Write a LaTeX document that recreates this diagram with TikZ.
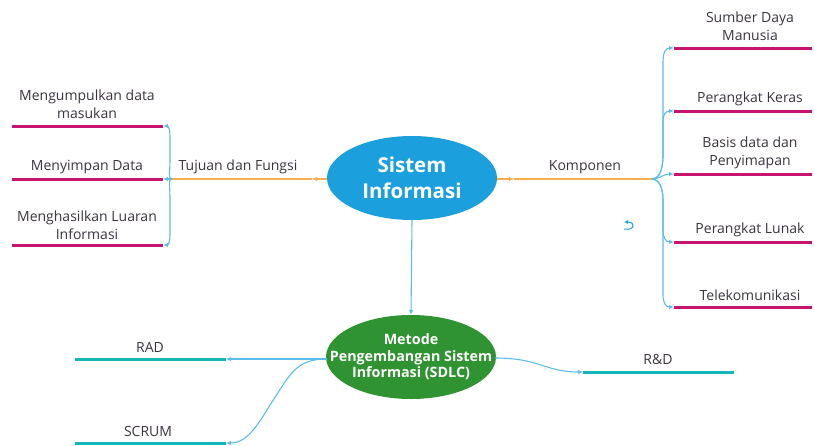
\documentclass[tikz,border=0pt]{standalone}
\usepackage{fontspec}
\setmainfont{Open Sans}
\usetikzlibrary{arrows.meta,shapes.geometric}
\definecolor{sysblue}{HTML}{1C9FDD}
\definecolor{sysgreen}{HTML}{2F9331}
\definecolor{conblue}{HTML}{5DBCEA}
\definecolor{orangeln}{HTML}{F6AE4A}
\definecolor{magln}{HTML}{C8146E}
\definecolor{tealln}{HTML}{12B7B7}
\definecolor{txt}{HTML}{3B3440}
\tikzset{
  x=1pt,y=-1pt,
  lbl/.style={font=\fontsize{14}{18}\selectfont, text=txt, align=center, inner sep=0pt},
  blueconn/.style={draw=conblue, line width=1.1pt, -{Latex[length=5pt,width=4.5pt]}},
  orthin/.style={draw=orangeln, line width=1.1pt, -{Latex[length=5pt,width=4.5pt]}},
  orthick/.style={draw=orangeln, line width=2.6pt},
  magline/.style={draw=magln, line width=3pt},
  tealline/.style={draw=tealln, line width=3pt},
  bubble/.style={ellipse, minimum width=170pt, minimum height=84pt, inner sep=0pt},
  bubtext/.style={text=white, align=center, inner sep=0pt},
}
\begin{document}
\begin{tikzpicture}
\useasboundingbox (0,0) rectangle (814,445);
% main nodes
\node[bubble, fill=sysblue] (si) at (412,178) {};
\node[bubtext, font=\bfseries\fontsize{20.5}{26}\selectfont] (sit) at (si.center) {Sistem\\Informasi};
\node[bubble, fill=sysgreen] (sdlc) at (411,357) {};
\node[bubtext, font=\bfseries\fontsize{14.3}{16.5}\selectfont] (sdlct) at (sdlc.center) {Metode\\Pengembangan Sistem\\Informasi (SDLC)};
% coordinates
\coordinate (oLa) at (312,179);
\coordinate (fL) at (172,179);
\coordinate (oRa) at (514,179);
\coordinate (fR) at (652,179);
% left topic
\draw[orthin] (si.west |- oLa) -- (oLa);
\draw[orthick] (oLa) -- (fL);
\node[lbl] (tuj) at (238,167) {Tujuan dan Fungsi};
% right topic
\draw[orthin] (si.east |- oRa) -- (oRa);
\draw[orthick] (oRa) -- (fR);
\node[lbl] (komp) at (585,167) {Komponen};
% left leaves
\coordinate (l1a) at (163,126); \coordinate (l1b) at (12,126);
\coordinate (l2a) at (163,179); \coordinate (l2b) at (12,179);
\coordinate (l3a) at (163,245); \coordinate (l3b) at (12,245);
\draw[magline] (l1a) -- (l1b);
\draw[magline] (l2a) -- (l2b);
\draw[magline] (l3a) -- (l3b);
\node[lbl] (t1) at (87,104) {Mengumpulkan data\\masukan};
\node[lbl] (t2) at (87,167) {Menyimpan Data};
\node[lbl] (t3) at (87,225) {Menghasilkan Luaran\\Informasi};
\draw[blueconn] (fL) .. controls (168,179) and (170,172) .. (170,160) -- (170,136) .. controls (170,129) and (168,126) .. (l1a);
\draw[blueconn] (fL) -- (l2a);
\draw[blueconn] (fL) .. controls (168,179) and (170,186) .. (170,198) -- (170,235) .. controls (170,242) and (168,245) .. (l3a);
% right leaves
\coordinate (r1a) at (674,48);  \coordinate (r1b) at (812,48);
\coordinate (r2a) at (674,111); \coordinate (r2b) at (812,111);
\coordinate (r3a) at (674,174); \coordinate (r3b) at (812,174);
\coordinate (r4a) at (674,242); \coordinate (r4b) at (812,242);
\coordinate (r5a) at (674,307); \coordinate (r5b) at (812,307);
\foreach \i in {1,...,5} { \draw[magline] (r\i a) -- (r\i b); }
\node[lbl] (s1) at (750,26) {Sumber Daya\\Manusia};
\node[lbl] (s2) at (750,99) {Perangkat Keras};
\node[lbl] (s3) at (750,153) {Basis data dan\\Penyimapan};
\node[lbl] (s4) at (750,230) {Perangkat Lunak};
\node[lbl] (s5) at (750,295) {Telekomunikasi};
\draw[blueconn] (fR) .. controls (658,179) and (663,172) .. (663,155) -- (663,62) .. controls (663,52) and (666,48) .. (r1a);
\draw[blueconn] (fR) .. controls (658,179) and (663,172) .. (663,155) -- (663,122) .. controls (663,114) and (666,111) .. (r2a);
\draw[blueconn] (fR) .. controls (660,179) and (663,174) .. (r3a);
\draw[blueconn] (fR) .. controls (658,179) and (663,186) .. (663,200) -- (663,230) .. controls (663,238) and (666,242) .. (r4a);
\draw[blueconn] (fR) .. controls (658,179) and (663,186) .. (663,200) -- (663,295) .. controls (663,303) and (666,307) .. (r5a);
% small symbol
\coordinate (u1) at (624,229); \coordinate (u2) at (624,222);
\draw[draw=sysblue, line width=1pt, -{Latex[length=4pt,width=4pt]}] (u1) .. controls (635,231) and (636,222) .. (u2);
% vertical
\draw[blueconn] (si.south) -- (sdlc.north);
% bottom leaves
\coordinate (radA) at (226,359); \coordinate (radB) at (75,359);
\coordinate (scrA) at (226,443); \coordinate (scrB) at (75,443);
\coordinate (rdA) at (583,372);  \coordinate (rdB) at (734,372);
\draw[tealline] (radA) -- (radB);
\draw[tealline] (scrA) -- (scrB);
\draw[tealline] (rdA) -- (rdB);
\node[lbl] (rad) at (150,347) {RAD};
\node[lbl] (scr) at (148,431) {SCRUM};
\node[lbl] (rd) at (658,359) {R\&D};
\coordinate (gL) at (327,359);
\coordinate (gR) at (495,358);
\draw[blueconn] (gL) -- (radA);
\draw[blueconn] (gL) .. controls (295,359) and (290,375) .. (270,405) .. controls (255,430) and (245,443) .. (scrA);
\draw[blueconn] (gR) .. controls (540,358) and (545,372) .. (rdA);
\end{tikzpicture}
\end{document}
